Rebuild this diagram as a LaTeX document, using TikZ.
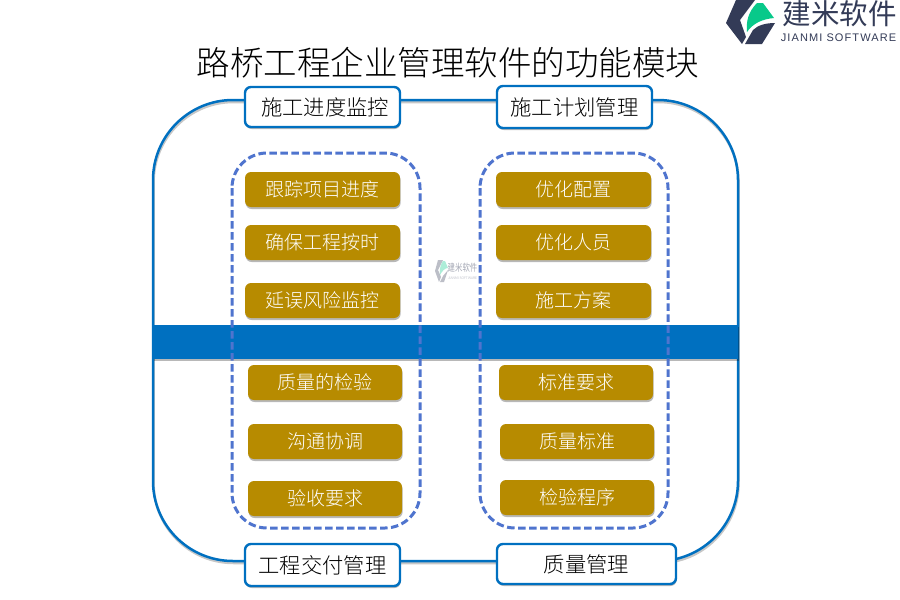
\documentclass[tikz,border=0pt]{standalone}
\usepackage{fontspec}
\usepackage{graphicx}
\setmainfont{Noto Sans CJK SC Light}
\newfontfamily\logofont{Noto Sans CJK SC}
\newfontfamily\latinsub[LetterSpace=10]{Liberation Sans}
\usetikzlibrary{shadows}
\definecolor{blueline}{HTML}{0070C0}
\definecolor{dashblue}{HTML}{4F74CE}
\definecolor{gold}{HTML}{B78B00}
\definecolor{logoink}{HTML}{333B57}
\definecolor{logogreen}{HTML}{08C98A}
\tikzset{
  softshadow/.style={drop shadow={shadow xshift=0.6pt,shadow yshift=-2pt,opacity=.28,fill=black}},
  headbox/.style={draw=blueline,line width=2.4pt,fill=white,rounded corners=6pt,softshadow,font=\fontsize{21.3pt}{24pt}\selectfont,text=black,inner sep=0pt},
  goldbox/.style={fill=gold,rounded corners=6pt,softshadow,font=\fontsize{19pt}{22pt}\selectfont,text=white,inner sep=0pt},
  dashbox/.style={draw=dashblue,line width=3pt,rounded corners=35pt,dash pattern=on 7.5pt off 3.5pt},
  framebox/.style={line width=2.5pt,rounded corners=80pt},
}
\newcommand{\pbox}[7]{\node[#1,minimum width=#4pt-#3pt,minimum height=#6pt-#5pt] (#2) at ({(#3+#4)/2},{(#5+#6)/2}) {#7};}
\begin{document}
\begin{tikzpicture}[x=1pt,y=-1pt]
\useasboundingbox (0,0) rectangle (900,600);
\fill[white] (0,0) rectangle (900,600);
% outer frame
\draw[framebox,black,opacity=.22] (153.6,102) rectangle (738.6,563);
\draw[framebox,blueline] (153,100) rectangle (738,561);
\fill[blueline,softshadow] (153,325) rectangle (738,359);
% dashed groups
\draw[dashbox] (232,153) rectangle (420,528);
\draw[dashbox] (480,153) rectangle (668,528);
% title
\node[font=\fontsize{33.5pt}{38pt}\selectfont,inner sep=0pt] (title) at (448,63) {路桥工程企业管理软件的功能模块};
% headers
\pbox{headbox}{h1}{245}{400}{87}{127}{\hspace*{5pt}施工进度监控}
\pbox{headbox}{h2}{497}{652}{86}{128}{施工计划管理}
\pbox{headbox}{h3}{245}{400}{544}{586}{工程交付管理}
\pbox{headbox}{h4}{497}{676}{544}{584}{质量管理}
% gold items
\pbox{goldbox}{a1}{245}{400}{172}{207}{跟踪项目进度}
\pbox{goldbox}{a2}{245}{400}{225}{260}{确保工程按时}
\pbox{goldbox}{a3}{245}{400}{283}{318}{延误风险监控}
\pbox{goldbox}{a4}{248}{402}{365}{400}{质量的检验}
\pbox{goldbox}{a5}{248}{402}{424}{459}{沟通协调}
\pbox{goldbox}{a6}{248}{402}{481}{516}{验收要求}
\pbox{goldbox}{b1}{496}{651}{172}{207}{优化配置}
\pbox{goldbox}{b2}{496}{651}{225}{260}{优化人员}
\pbox{goldbox}{b3}{496}{651}{283}{318}{施工方案}
\pbox{goldbox}{b4}{499}{653}{365}{400}{标准要求}
\pbox{goldbox}{b5}{500}{654}{424}{459}{质量标准}
\pbox{goldbox}{b6}{500}{654}{480}{515}{检验程序}
% logo top right
\fill[logoink] (736,0) -- (755,0) -- (740,20) -- (746,37) -- (742,44) -- (726,23) -- cycle;
\fill[logoink] (745,44) -- (753,30) .. controls (758,25) and (766,23) .. (775,23) -- (762,44) -- cycle;
\fill[logogreen] (747,32) .. controls (746,22) and (748,12) .. (757,3) -- (763,3) -- (774,18) .. controls (763,19) and (753,23) .. (747,32) -- cycle;
\node[font=\logofont\fontsize{28.5pt}{30pt}\selectfont,text=logoink,inner sep=0pt] (logotext) at (839.5,14) {建米软件};
\node[font=\latinsub\fontsize{11pt}{12pt}\selectfont,text=logoink,inner sep=0pt] (logosub) at (838.5,38) {JIANMI SOFTWARE};
% watermark
\begin{scope}[opacity=.55]
\fill[logoink!60] (438,260) -- (443,260) -- (438,270) -- (441,277) -- (439,282) -- (435,271) -- cycle;
\fill[logoink!60] (440,282) -- (443,276) -- (448,270) -- (444,282) -- cycle;
\fill[logogreen!60] (440,275) .. controls (439,269) and (441,264) .. (443,261) -- (445,261) -- (448,268) .. controls (445,268) and (442,271) .. (440,275) -- cycle;
\node[font=\logofont\fontsize{7.4pt}{8pt}\selectfont,text=logoink!80,inner sep=0pt] (wm) at (462.5,268) {\scalebox{1}[1.35]{建米软件}};
\node[font=\fontsize{3.5pt}{4pt}\selectfont,text=logoink!80,inner sep=0pt] (wmsub) at (462.5,278.5) {JIANMI SOFTWARE};
\end{scope}
\end{tikzpicture}
\end{document}
